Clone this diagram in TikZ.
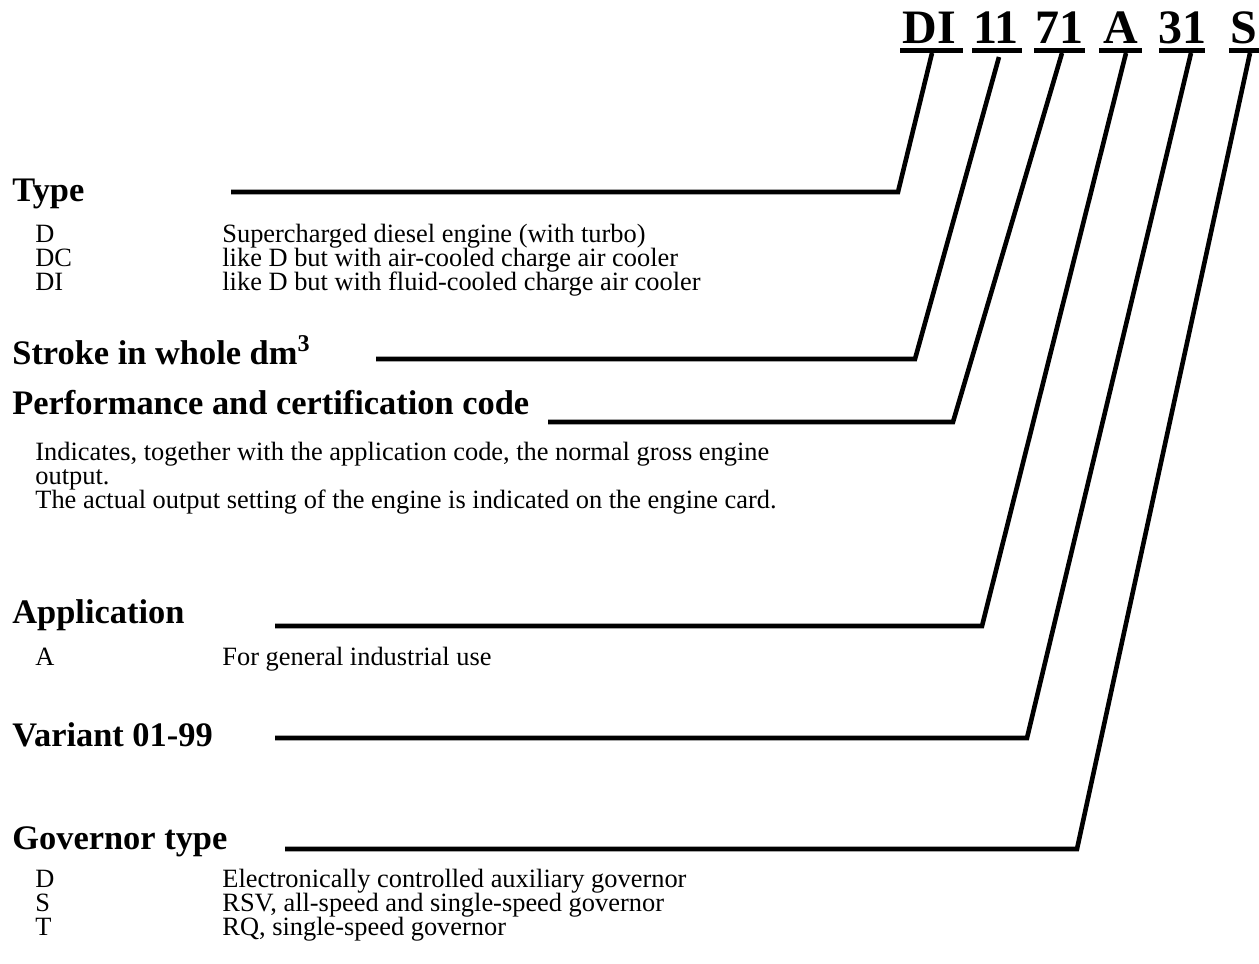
\documentclass[tikz,border=0pt]{standalone}
\usepackage{fontspec}
\setmainfont{Liberation Serif}
\newcommand{\codefnt}{\fontsize{24pt}{26pt}\selectfont\bfseries}
\newcommand{\headfnt}{\fontsize{17.2pt}{18pt}\selectfont\bfseries}
\newcommand{\bodyfnt}{\fontsize{13.2pt}{14pt}\selectfont}
\begin{document}
\begin{tikzpicture}[x=0.5pt,y=-0.5pt,
  code/.style={anchor=base west,inner sep=0pt,font=\codefnt},
  head/.style={anchor=base west,inner sep=0pt,font=\headfnt},
  body/.style={anchor=base west,inner sep=0pt,font=\bodyfnt},
  uline/.style={line width=2.5pt},
  lead/.style={line width=2.3pt,line join=miter}]
\useasboundingbox (0,0) rectangle (1259,964);
% code letters
\node[code] (cDI) at (902,43) {DI};
\node[code] (c11) at (973,43) {11};
\node[code] (c71) at (1035,43) {71};
\node[code] (cA)  at (1103,43) {A};
\node[code] (c31) at (1158,43) {31};
\node[code] (cS)  at (1230,43) {S};
\draw[uline] (900,50) -- (963,50);
\draw[uline] (972,50) -- (1022,50);
\draw[uline] (1034,50) -- (1085,50);
\draw[uline] (1099,50) -- (1142,50);
\draw[uline] (1159,50) -- (1205,50);
\draw[uline] (1229,50) -- (1259,50);
% headings
\node[head] (hType) at (12,201) {Type};
\node[head] (hStroke) at (12,364) {Stroke in whole dm\textsuperscript{3}};
\node[head] (hPerf) at (12,414) {Performance and certification code};
\node[head] (hApp) at (12,623) {Application};
\node[head] (hVar) at (12,746) {Variant 01-99};
\node[head] (hGov) at (12,849) {Governor type};
% body
\node[body] (kD) at (35,242) {D};
\node[body] (kDC) at (35,266) {DC};
\node[body] (kDI) at (35,290) {DI};
\node[body] (vD) at (222,242) {Supercharged diesel engine (with turbo)};
\node[body] (vDC) at (222,266) {like D but with air-cooled charge air cooler};
\node[body] (vDI) at (222,290) {like D but with fluid-cooled charge air cooler};
\node[body] (p1) at (35,460) {Indicates, together with the application code, the normal gross engine};
\node[body] (p2) at (35,484) {output.};
\node[body] (p3) at (35,508) {The actual output setting of the engine is indicated on the engine card.};
\node[body] (kA) at (35,665) {A};
\node[body] (vA) at (222,665) {For general industrial use};
\node[body] (kGD) at (35,887) {D};
\node[body] (kGS) at (35,911) {S};
\node[body] (kGT) at (35,935) {T};
\node[body] (vGD) at (222,887) {Electronically controlled auxiliary governor};
\node[body] (vGS) at (222,911) {RSV, all-speed and single-speed governor};
\node[body] (vGT) at (222,935) {RQ, single-speed governor};
% leader coordinates
\coordinate (tDI) at (932,53);  \coordinate (bDI) at (898,192);  \coordinate (sDI) at (231,192);
\coordinate (t11) at (999,57);  \coordinate (b11) at (915,359);  \coordinate (s11) at (376,359);
\coordinate (t71) at (1062,53); \coordinate (b71) at (953,422);  \coordinate (s71) at (548,422);
\coordinate (tA)  at (1126,53); \coordinate (bA)  at (982,626);  \coordinate (sA)  at (275,626);
\coordinate (t31) at (1191,53); \coordinate (b31) at (1027,738); \coordinate (s31) at (275,738);
\coordinate (tS)  at (1250,53); \coordinate (bS)  at (1077,849); \coordinate (sS)  at (285,849);
\draw[lead] (tDI) -- (bDI) -- (sDI);
\draw[lead] (t11) -- (b11) -- (s11);
\draw[lead] (t71) -- (b71) -- (s71);
\draw[lead] (tA) -- (bA) -- (sA);
\draw[lead] (t31) -- (b31) -- (s31);
\draw[lead] (tS) -- (bS) -- (sS);
\end{tikzpicture}
\end{document}
